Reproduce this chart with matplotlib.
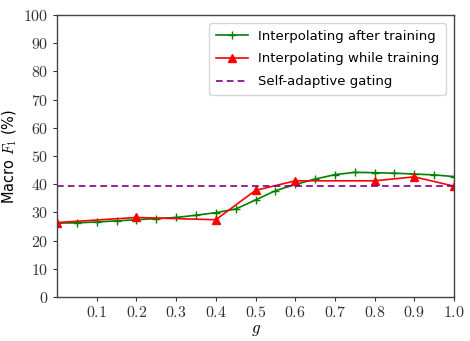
import matplotlib
matplotlib.use("Agg")
import matplotlib.pyplot as plt

g_after = [0.0, 0.05, 0.1, 0.15, 0.2, 0.25, 0.3, 0.35, 0.4, 0.45, 0.5,
           0.55, 0.6, 0.65, 0.7, 0.75, 0.8, 0.85, 0.9, 0.95, 1.0]
f1_after = [26.2, 26.3, 26.6, 27.0, 27.4, 27.8, 28.2, 29.0, 29.9, 31.2, 34.4,
            37.7, 39.9, 41.8, 43.4, 44.2, 44.1, 43.9, 43.6, 43.3, 42.7]

g_while = [0.0, 0.2, 0.4, 0.5, 0.6, 0.8, 0.9, 1.0]
f1_while = [26.4, 28.2, 27.4, 37.8, 41.2, 41.2, 42.6, 39.3]

f1_gating = 39.5

xticks = [0.1, 0.2, 0.3, 0.4, 0.5, 0.6, 0.7, 0.8, 0.9, 1.0]
yticks = [0, 10, 20, 30, 40, 50, 60, 70, 80, 90, 100]

plt.rcParams.update({
    "font.family": "DejaVu Sans",
    "mathtext.fontset": "cm",
})

fig = plt.figure(figsize=(4.7, 3.41), dpi=100)
ax = fig.add_axes([57 / 470, 1 - 297 / 341, (454 - 57) / 470, (297 - 15) / 341])

ax.plot(g_after, f1_after, color="green", marker="+", markersize=6,
        linewidth=1.2, label="Interpolating after training")
ax.plot(g_while, f1_while, color="red", marker="^", markersize=5.5,
        linewidth=1.2, label="Interpolating while training")
ax.axhline(f1_gating, color="purple", linestyle="--", linewidth=1.2,
           dashes=(4, 2.5), label="Self-adaptive gating")

ax.set_xlim(0, 1.0)
ax.set_ylim(0, 100)
ax.set_xticks(xticks, [f"${t:.1f}$" for t in xticks])
ax.set_yticks(yticks, [f"${t}$" for t in yticks])
ax.tick_params(labelsize=11.5, length=3, width=0.8, colors="#333333", pad=3)
for spine in ax.spines.values():
    spine.set_color("#444444")
    spine.set_linewidth(1.0)

ax.set_xlabel("$g$", fontsize=12, labelpad=0)
ax.set_ylabel("Macro $F_1$ (%)", fontsize=10.5)

ax.legend(loc="upper right", fontsize=9.5, framealpha=0.8, handlelength=2.4,
          borderpad=0.5, labelspacing=0.75, borderaxespad=0.6)

fig.savefig("out.png", dpi=100)
